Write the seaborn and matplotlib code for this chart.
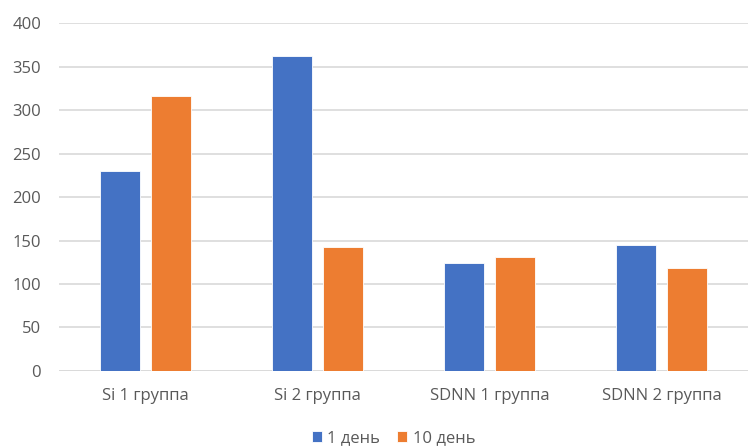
import matplotlib
matplotlib.use("Agg")
import matplotlib.pyplot as plt
import seaborn as sns
import pandas as pd

categories = ["Si 1 группа", "Si 2 группа", "SDNN 1 группа", "SDNN 2 группа"]
series_names = ["1 день", "10 день"]
day1 = [230, 362, 124, 145]
day10 = [316, 143, 131, 119]
y_ticks = [0, 50, 100, 150, 200, 250, 300, 350, 400]

df = pd.DataFrame({
    "category": categories * 2,
    "series": [series_names[0]] * len(categories) + [series_names[1]] * len(categories),
    "value": day1 + day10,
})

sns.set_theme(style="white")
plt.rcParams["font.family"] = ["Open Sans", "DejaVu Sans"]

fig = plt.figure(figsize=(7.48, 4.48), dpi=100)
ax = fig.add_axes([0.079, 0.172, 0.921, 0.776])

palette = {series_names[0]: "#4472C4", series_names[1]: "#ED7D31"}
sns.barplot(data=df, x="category", y="value", hue="series", palette=palette,
            width=0.593, gap=0.216, ax=ax, saturation=1, legend=True,
            edgecolor="white", linewidth=0.6)

ax.set_ylim(0, 400)
ax.set_yticks(y_ticks)
ax.set_xlim(-0.5, 3.5)
ax.yaxis.grid(True, color="#D9D9D9", linewidth=1.2)
ax.set_axisbelow(True)
for s in ax.spines.values():
    s.set_visible(False)
ax.axhline(0, color="#D9D9D9", linewidth=1.2, zorder=0)
ax.set_xlabel("")
ax.set_ylabel("")
ax.tick_params(axis="both", length=0, labelsize=12, labelcolor="#595959")
ax.tick_params(axis="y", pad=13)
ax.tick_params(axis="x", pad=12)

handles, labels = ax.get_legend_handles_labels()
ax.legend_.remove()
fig.legend(handles, labels, loc="center", bbox_to_anchor=(0.526, 0.022),
           ncol=2, frameon=False, fontsize=12, labelcolor="#595959",
           handlelength=0.6, handleheight=0.6, handletextpad=0.35,
           columnspacing=1.0)

fig.savefig("out.png", dpi=100)
